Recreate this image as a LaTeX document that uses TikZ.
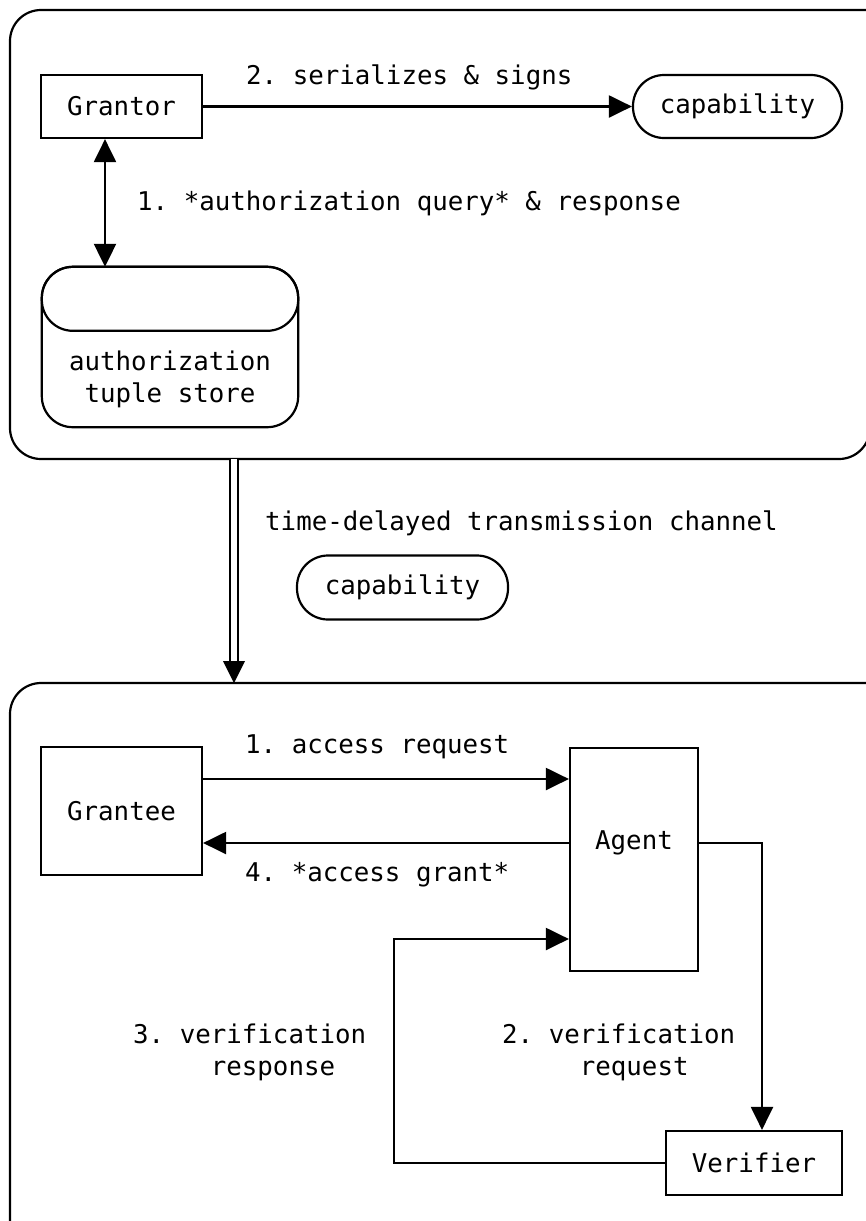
\documentclass[tikz,border=0pt]{standalone}
\usepackage{fontspec}
\newfontfamily\mono{DejaVu Sans Mono}
\usetikzlibrary{arrows.meta,calc}
\frenchspacing
\tikzset{
  txt/.style={font={\mono\frenchspacing\fontsize{25.8}{32}\selectfont}, inner sep=0pt},
  box/.style={draw, line width=2.2pt, txt},
  pill/.style={draw, line width=2.2pt, rounded corners=31pt, txt},
  ghost/.style={inner sep=0pt},
  ln/.style={line width=2.2pt},
  arr/.style={line width=2.2pt, -{Triangle[length=23pt,width=22pt]}},
  darr/.style={line width=2.2pt, {Triangle[length=23pt,width=22pt]}-{Triangle[length=23pt,width=22pt]}},
  lbl/.style={txt, anchor=west},
}
\begin{document}
\begin{tikzpicture}[x=1pt,y=-1pt]
\clip (0,0) rectangle (866,1221);
\fill[white] (0,0) rectangle (866,1221);
% outer frames
\draw[ln, rounded corners=31pt] (920,10) -- (10,10) -- (10,459) -- (870,459) -- (870,300);
\draw[ln, rounded corners=31pt] (920,683) -- (10,683) -- (10,1260);
% top group
\node[box, minimum width=161pt, minimum height=63pt] (grantor) at (121.5,106.5) {Grantor};
\node[pill, minimum width=209pt, minimum height=63pt] (cap1) at (737.5,106.5) {capability};
\node[ghost, minimum width=256pt, minimum height=160pt] (store) at (170,347) {};
\draw[ln, rounded corners=31pt] (store.north west) rectangle (store.south east);
\draw[ln, rounded corners=31pt] (store.north west) rectangle ($(store.north east)+(0,64)$);
\node[txt, align=center] (storetext) at (170,379) {authorization\\tuple store};
\coordinate (xa) at (105,0);
\draw[darr] (grantor.south -| xa) -- (store.north -| xa);
\draw[arr] (grantor.east) -- (cap1.west);
\node[lbl] (l2top) at (246,77) {2. serializes \& signs};
\node[lbl] (l1top) at (137,203) {1. *authorization query* \& response};
% channel
\coordinate (chs) at (234,459);
\coordinate (che) at (234,683);
\coordinate (chm) at (234,661);
\draw[line width=2.2pt, double, double distance=6pt] (chs) -- (chm);
\fill (che) -- ($(chm)+(-11,0)$) -- ($(chm)+(11,0)$) -- cycle;
\node[lbl] (chan) at (265,523) {time-delayed transmission channel};
\node[pill, minimum width=211pt, minimum height=64pt] (cap2) at (402.5,587.5) {capability};
% bottom group
\node[box, minimum width=161pt, minimum height=128pt] (grantee) at (121.5,811) {Grantee};
\node[draw, ln, minimum width=128pt, minimum height=223pt] (agent) at (634,859.5) {};
\node[txt] (agenttext) at (634,843) {Agent};
\node[box, minimum width=176pt, minimum height=64pt] (verifier) at (754,1163) {Verifier};
\coordinate (a1) at (0,779);
\coordinate (a4) at (0,843);
\coordinate (c3) at (394,939);
\draw[arr] (grantee.east |- a1) -- (agent.west |- a1);
\draw[arr] (agent.west |- a4) -- (grantee.east |- a4);
\draw[arr] (agent.east |- a4) -| ([xshift=8pt]verifier.north);
\draw[arr] (verifier.west) -| (c3) -- (agent.west |- c3);
\node[lbl] (acc1) at (245,747) {1. access request};
\node[lbl] (acc4) at (245,875) {4. *access grant*};
\node[txt, align=left, anchor=west] (v3) at (133,1052) {3. verification\\\phantom{xxxxx}response};
\node[txt, align=left, anchor=west] (v2) at (502,1052) {2. verification\\\phantom{xxxxx}request};
\end{tikzpicture}
\end{document}
